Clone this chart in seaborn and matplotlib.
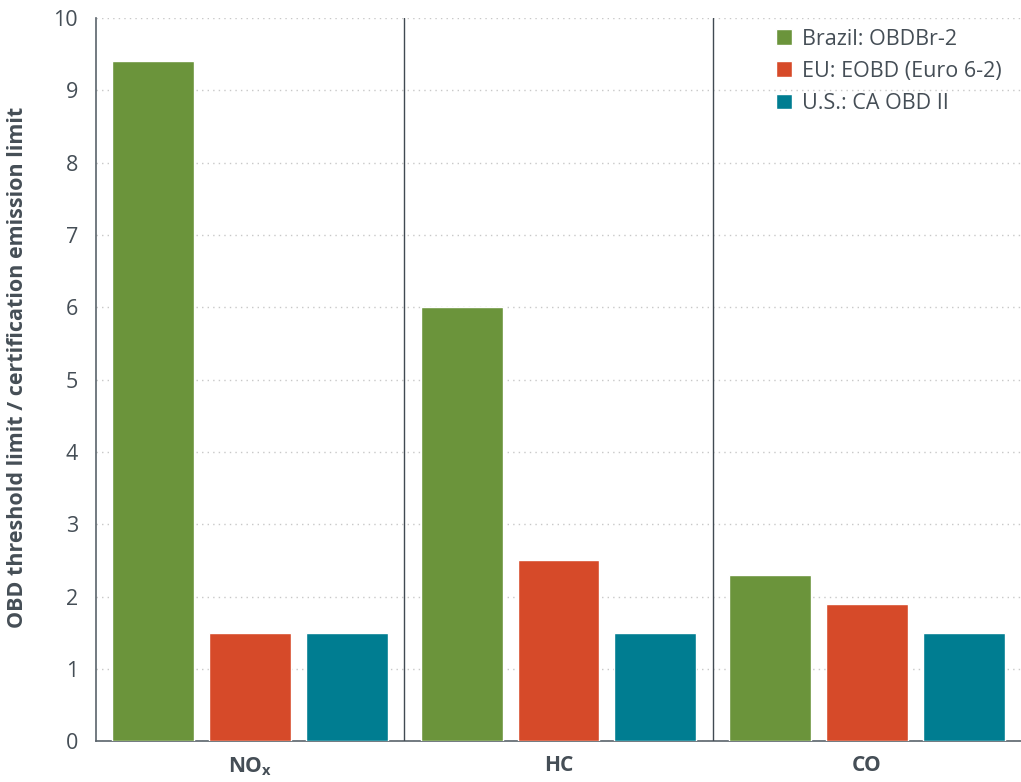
import pandas as pd
import matplotlib.pyplot as plt
import seaborn as sns

# chart values
pollutants = ["NO$_\\mathregular{x}$", "HC", "CO"]
programs = ["Brazil: OBDBr-2", "EU: EOBD (Euro 6-2)", "U.S.: CA OBD II"]
brazil = [9.4, 6.0, 2.3]
eu = [1.5, 2.5, 1.9]
us = [1.5, 1.5, 1.5]
colors = ["#6b943b", "#d64a29", "#007d91"]

rows = []
for prog, vals in zip(programs, [brazil, eu, us]):
    for pol, v in zip(pollutants, vals):
        rows.append({"Pollutant": pol, "Program": prog, "Ratio": v})
df = pd.DataFrame(rows)

sns.set_style("white")
plt.rcParams['font.family'] = ['Open Sans', 'DejaVu Sans']
text_col = "#454e56"

fig = plt.figure(figsize=(10.21, 7.82), dpi=100)
ax = fig.add_axes([0.094, 0.052, 0.906, 0.925])

sns.barplot(data=df, x="Pollutant", y="Ratio", hue="Program", order=pollutants,
            hue_order=programs, palette=colors, width=0.942, gap=0.155,
            saturation=1, ax=ax, zorder=3)

ax.set_ylim(0, 10)
ax.set_xlim(-0.5, 2.5)
ax.set_yticks(range(0, 11))
ax.yaxis.grid(True, linestyle=(0, (1, 3)), color="#c8c8c8", linewidth=1.0, zorder=0)
ax.set_axisbelow(True)

# category dividers
for xv in [0.5, 1.5]:
    ax.axvline(xv, color="#414a52", linewidth=1.0, zorder=4)

for side in ["top", "right"]:
    ax.spines[side].set_visible(False)
for side in ["left", "bottom"]:
    ax.spines[side].set_color("#5a636b")
    ax.spines[side].set_linewidth(1.2)

ax.tick_params(axis="y", length=0, labelsize=15.5, labelcolor=text_col, pad=13)
ax.tick_params(axis="x", length=0, labelsize=15, labelcolor=text_col, pad=10)
for lbl in ax.get_xticklabels():
    lbl.set_fontweight("bold")

ax.set_xlabel("")
ax.set_ylabel("OBD threshold limit / certification emission limit", fontsize=15.5,
              fontweight="bold", color=text_col)
ax.yaxis.set_label_coords(-0.073, 0.517)

leg = ax.legend(loc="upper right", bbox_to_anchor=(1.0, 1.012), frameon=False,
                fontsize=15.5, handlelength=0.75, handleheight=0.75,
                handletextpad=0.45, labelspacing=0.52)
for t in leg.get_texts():
    t.set_color(text_col)

fig.savefig("out.png", dpi=100)
